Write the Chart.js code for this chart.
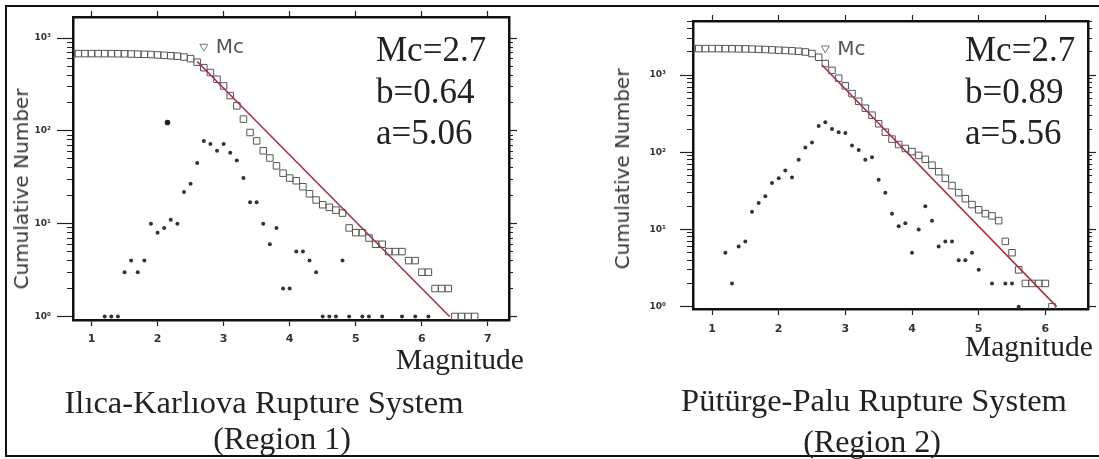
<!DOCTYPE html>
<html>
<head>
<meta charset="utf-8">
<script src="https://cdn.jsdelivr.net/npm/chart.js@4.4.1/dist/chart.umd.min.js"></script>
<style>
  html, body { margin: 0; padding: 0; background: #fff; }
  body { width: 1099px; height: 459px; position: relative; overflow: hidden; }
  #frame { position: absolute; left: 5px; top: 5px; width: 1100px; height: 448px;
           border-left: 2px solid #111; border-top: 2px solid #111; border-bottom: 2px solid #111; }
  canvas { position: absolute; top: 0; }
  .serif { position: absolute; font-family: "Liberation Serif", "Times New Roman", serif; color: #222;
           white-space: nowrap; line-height: 1; }
  .centered { width: 600px; text-align: center; }
  .stats { font-size: 35px; line-height: 41.5px; }
  .ylab { position: absolute; font-family: "DejaVu Sans", sans-serif; font-size: 20px; color: #333;
          white-space: nowrap; line-height: 1; transform: translate(-50%, -50%) rotate(-90deg); }
</style>
</head>
<body>
<div id="frame"></div>
<canvas id="left" width="549" height="459" style="left:0"></canvas>
<canvas id="right" width="550" height="459" style="left:549px"></canvas>

<div class="ylab" style="left:21px; top:189px">Cumulative Number</div>
<div class="ylab" style="left:622px; top:169px">Cumulative Number</div>

<div class="serif stats" style="left:376px; top:29px">Mc=2.7<br>b=0.64<br>a=5.06</div>
<div class="serif stats" style="left:965px; top:29px">Mc=2.7<br>b=0.89<br>a=5.56</div>

<div class="serif" style="left:396px; top:345px; font-size:29.5px">Magnitude</div>
<div class="serif" style="left:965px; top:332px; font-size:29.5px">Magnitude</div>

<div class="serif centered" style="left:-36px; top:386px; font-size:32.5px">Ilıca-Karlıova Rupture System</div>
<div class="serif centered" style="left:-18px; top:422px; font-size:32px">(Region 1)</div>
<div class="serif centered" style="left:574px; top:384px; font-size:32.5px">Pütürge-Palu Rupture System</div>
<div class="serif centered" style="left:572px; top:425px; font-size:32px">(Region 2)</div>

<script>
// tick labels
const xTicks = [1, 2, 3, 4, 5, 6, 7];
const yMajor = [1, 10, 100, 1000];
const yMajorLabels = ["10⁰", "10¹", "10²", "10³"];
const yMinor = [1, 2, 3, 4, 5, 6, 7, 8, 9, 10, 20, 30, 40, 50, 60, 70, 80, 90,
                100, 200, 300, 400, 500, 600, 700, 800, 900, 1000, 2000, 3000, 4000, 5000];

// --- Region 1: Ilıca-Karlıova ---
const cumMagL = [0.7, 0.8, 0.9, 1.0, 1.1, 1.2, 1.3, 1.4, 1.5, 1.6, 1.7, 1.8, 1.9, 2.0, 2.1, 2.2, 2.3, 2.4,
                 2.5, 2.6, 2.7, 2.8, 2.9, 3.0, 3.1, 3.2, 3.3, 3.4, 3.5, 3.6, 3.7, 3.8, 3.9, 4.0, 4.1, 4.2,
                 4.3, 4.4, 4.5, 4.6, 4.7, 4.8, 4.9, 5.0, 5.1, 5.2, 5.3, 5.4, 5.5, 5.6, 5.7, 5.8, 5.9, 6.0,
                 6.1, 6.2, 6.3, 6.4, 6.5, 6.6, 6.7, 6.8];
const cumL = [680, 680, 680, 680, 680, 680, 679, 678, 677, 674, 671, 668, 665, 658, 652, 645, 638, 625,
              600, 550, 480, 425, 360, 305, 240, 186, 134, 96, 78, 61, 51, 42, 35, 31, 29, 25,
              21, 18, 16, 15, 14, 13, 9, 8, 8, 7, 6, 6, 5, 5, 5, 4, 4, 3,
              3, 2, 2, 2, 1, 1, 1, 1];
const incMagL = [1.2, 1.3, 1.4, 1.5, 1.6, 1.7, 1.8, 1.9, 2.0, 2.1, 2.2, 2.3, 2.4, 2.5, 2.6, 2.7, 2.8,
                 2.9, 3.0, 3.1, 3.2, 3.3, 3.4, 3.5, 3.6, 3.7, 3.8, 3.9, 4.0, 4.1, 4.2, 4.3, 4.4, 4.5,
                 4.6, 4.7, 4.8, 4.9, 5.0, 5.1, 5.2, 5.3, 5.4, 5.5, 5.6, 5.7, 5.8, 5.9, 6.0, 6.1];
const incL = [1, 1, 1, 3, 4, 3, 4, 10, 8, 9, 11, 10, 22, 27, 45, 78, 72,
              61, 72, 58, 48, 31, 17, 17, 10, 6, 9, 2, 2, 5, 5, 4, 3, 1,
              1, 1, 4, 1, null, 1, 1, null, 1, null, null, 1, null, 1, null, 1];
const oddMagL = [2.15];
const oddL = [123];
const fitMagL = [2.6, 6.42];
const fitL = [560, 1];
const mcMagL = [2.7];
const mcL = [810];

// --- Region 2: Pütürge-Palu ---
const cumMagR = [0.7, 0.8, 0.9, 1.0, 1.1, 1.2, 1.3, 1.4, 1.5, 1.6, 1.7, 1.8, 1.9, 2.0, 2.1, 2.2, 2.3, 2.4,
                 2.5, 2.6, 2.7, 2.8, 2.9, 3.0, 3.1, 3.2, 3.3, 3.4, 3.5, 3.6, 3.7, 3.8, 3.9, 4.0, 4.1, 4.2,
                 4.3, 4.4, 4.5, 4.6, 4.7, 4.8, 4.9, 5.0, 5.1, 5.2, 5.3, 5.4, 5.5, 5.6, 5.7, 5.8, 5.9, 6.0, 6.1];
const cumR = [2200, 2200, 2200, 2200, 2200, 2195, 2190, 2185, 2180, 2170, 2155, 2140, 2120, 2100, 2080, 2060, 2030, 1990,
              1900, 1700, 1410, 1150, 910, 725, 575, 457, 372, 302, 234, 182, 148, 126, 112, 102, 91, 81,
              68, 56, 46, 37, 30, 25, 21, 18, 16, 15, 13, 7, 5, 3, 2, 2, 2, 2, 1];
const incMagR = [1.2, 1.3, 1.4, 1.5, 1.6, 1.7, 1.8, 1.9, 2.0, 2.1, 2.2, 2.3, 2.4, 2.5, 2.6, 2.7, 2.8,
                 2.9, 3.0, 3.1, 3.2, 3.3, 3.4, 3.5, 3.6, 3.7, 3.8, 3.9, 4.0, 4.1, 4.2, 4.3, 4.4, 4.5,
                 4.6, 4.7, 4.8, 4.9, 5.0, 5.1, 5.2, 5.3, 5.4, 5.5, 5.6];
const incR = [5, 2, 6, 7, 17, 22, 27, 40, 46, 58, 47, 80, 115, 134, 219, 245, 200,
              182, 177, 122, 107, 80, 86, 44, 30, 16, 11, 12, 5, 10, 20, 13, 6, 7,
              7, 4, 4, 5, 3, null, 2, null, 2, 2, 1];
const fitMagR = [2.65, 6.17];
const fitR = [1350, 1];
const mcMagR = [2.7];
const mcR = [2220];

function pts(xs, ys) {
  return xs.map((x, i) => ({ x: x, y: ys[i] })).filter(p => p.y !== null);
}

// "Mc" next to the triangle marker
const mcLabel = {
  id: "mcLabel",
  afterDatasetsDraw(chart) {
    const meta = chart.getDatasetMeta(4);
    const pt = meta.data[0];
    if (!pt) return;
    const ctx = chart.ctx;
    ctx.save();
    ctx.font = '20px "DejaVu Sans"';
    ctx.fillStyle = "#555";
    ctx.textBaseline = "middle";
    ctx.fillText("Mc", pt.x + 12, pt.y + 1);
    ctx.restore();
  }
};

function tickGrid(len, width) {
  return { display: true, drawOnChartArea: false, drawTicks: true, tickLength: len,
           tickColor: "#222", tickWidth: width };
}

function makePanel(id, p) {
  const W = p.w, H = 459;
  const minorVals = yMinor.filter(v => v >= p.yMin && v <= p.yMax);
  const majorIdx = yMajor.map((v, i) => i).filter(i => yMajor[i] >= p.yMin && yMajor[i] <= p.yMax);
  const xVals = xTicks.filter(v => v >= p.xMin && v <= p.xMax);
  const border = { display: true, color: "#111", width: 2.5 };
  const noBorder = { display: false };

  new Chart(document.getElementById(id), {
    type: "scatter",
    data: {
      datasets: [
        { data: pts(p.fitMag, p.fit), showLine: true, borderColor: "#a8323f", borderWidth: 1.6,
          pointRadius: 0 },
        { data: pts(p.cumMag, p.cum), pointStyle: "rect", pointRadius: 4.6,
          pointBorderColor: "#555", pointBorderWidth: 1, pointBackgroundColor: "rgba(0,0,0,0)" },
        { data: pts(p.incMag, p.inc), pointStyle: "circle", pointRadius: 2,
          pointBackgroundColor: "#333", pointBorderWidth: 0 },
        { data: pts(p.oddMag, p.odd), pointStyle: "circle", pointRadius: 2.8,
          pointBackgroundColor: "#222", pointBorderWidth: 0 },
        { data: pts(p.mcMag, p.mc), pointStyle: "triangle", pointRotation: 180, pointRadius: 4.6,
          pointBorderColor: "#777", pointBorderWidth: 1, pointBackgroundColor: "rgba(0,0,0,0)" }
      ]
    },
    options: {
      responsive: false,
      animation: false,
      devicePixelRatio: 1,
      events: [],
      layout: { padding: 0 },
      plugins: { legend: { display: false }, tooltip: { enabled: false } },
      scales: {
        x: {
          type: "linear", position: "bottom", min: p.xMin, max: p.xMax,
          afterBuildTicks: a => { a.ticks = xVals.map(v => ({ value: v })); },
          afterFit: s => { s.height = H - p.area.bottom; },
          grid: tickGrid(6, 1.2), border: border,
          ticks: { autoSkip: false, maxRotation: 0, padding: p.xPad, color: "#333",
                   font: { family: "DejaVu Sans", size: 11, weight: "bold" }, callback: v => String(v) }
        },
        xTop: {
          type: "linear", position: "top", min: p.xMin, max: p.xMax,
          afterBuildTicks: a => { a.ticks = xVals.map(v => ({ value: v })); },
          afterFit: s => { s.height = p.area.top; },
          grid: tickGrid(6, 1.2), border: border,
          ticks: { display: false }
        },
        y: {
          type: "logarithmic", position: "left", weight: 1, min: p.yMin, max: p.yMax,
          afterBuildTicks: a => { a.ticks = majorIdx.map(i => ({ value: yMajor[i] })); },
          afterFit: s => { s.width = p.area.left; },
          grid: tickGrid(p.majorLen, 1.2), border: border,
          ticks: { autoSkip: false, padding: p.yPad, color: "#333",
                   font: { family: "DejaVu Sans", size: 9, weight: "bold" },
                   callback: v => yMajorLabels[yMajor.indexOf(v)] }
        },
        yMinor: {
          type: "logarithmic", position: "left", weight: 0, min: p.yMin, max: p.yMax,
          afterBuildTicks: a => { a.ticks = minorVals.map(v => ({ value: v })); },
          afterFit: s => { s.width = 0; },
          grid: tickGrid(6, 1), border: noBorder,
          ticks: { display: false, autoSkip: false }
        },
        yRight: {
          type: "logarithmic", position: "right", weight: 1, min: p.yMin, max: p.yMax,
          afterBuildTicks: a => { a.ticks = majorIdx.map(i => ({ value: yMajor[i] })); },
          afterFit: s => { s.width = W - p.area.right; },
          grid: tickGrid(8, 1.2), border: border,
          ticks: { display: false, autoSkip: false }
        },
        yRightMinor: {
          type: "logarithmic", position: "right", weight: 0, min: p.yMin, max: p.yMax,
          afterBuildTicks: a => { a.ticks = minorVals.map(v => ({ value: v })); },
          afterFit: s => { s.width = 0; },
          grid: tickGrid(4, 1), border: noBorder,
          ticks: { display: false, autoSkip: false }
        }
      }
    },
    plugins: [mcLabel]
  });
}

makePanel("left", {
  w: 549, area: { left: 73, right: 509, top: 17, bottom: 320 },
  xMin: 0.72, xMax: 7.32, yMin: 0.916, yMax: 1687,
  majorLen: 16, yPad: 6, xPad: 7,
  cumMag: cumMagL, cum: cumL, incMag: incMagL, inc: incL, oddMag: oddMagL, odd: oddL,
  fitMag: fitMagL, fit: fitL, mcMag: mcMagL, mc: mcL
});

makePanel("right", {
  w: 550, area: { left: 144, right: 539, top: 21, bottom: 309 },
  xMin: 0.715, xMax: 6.64, yMin: 0.933, yMax: 5012,
  majorLen: 13, yPad: 14, xPad: 8,
  cumMag: cumMagR, cum: cumR, incMag: incMagR, inc: incR, oddMag: [], odd: [],
  fitMag: fitMagR, fit: fitR, mcMag: mcMagR, mc: mcR
});
</script>
</body>
</html>
